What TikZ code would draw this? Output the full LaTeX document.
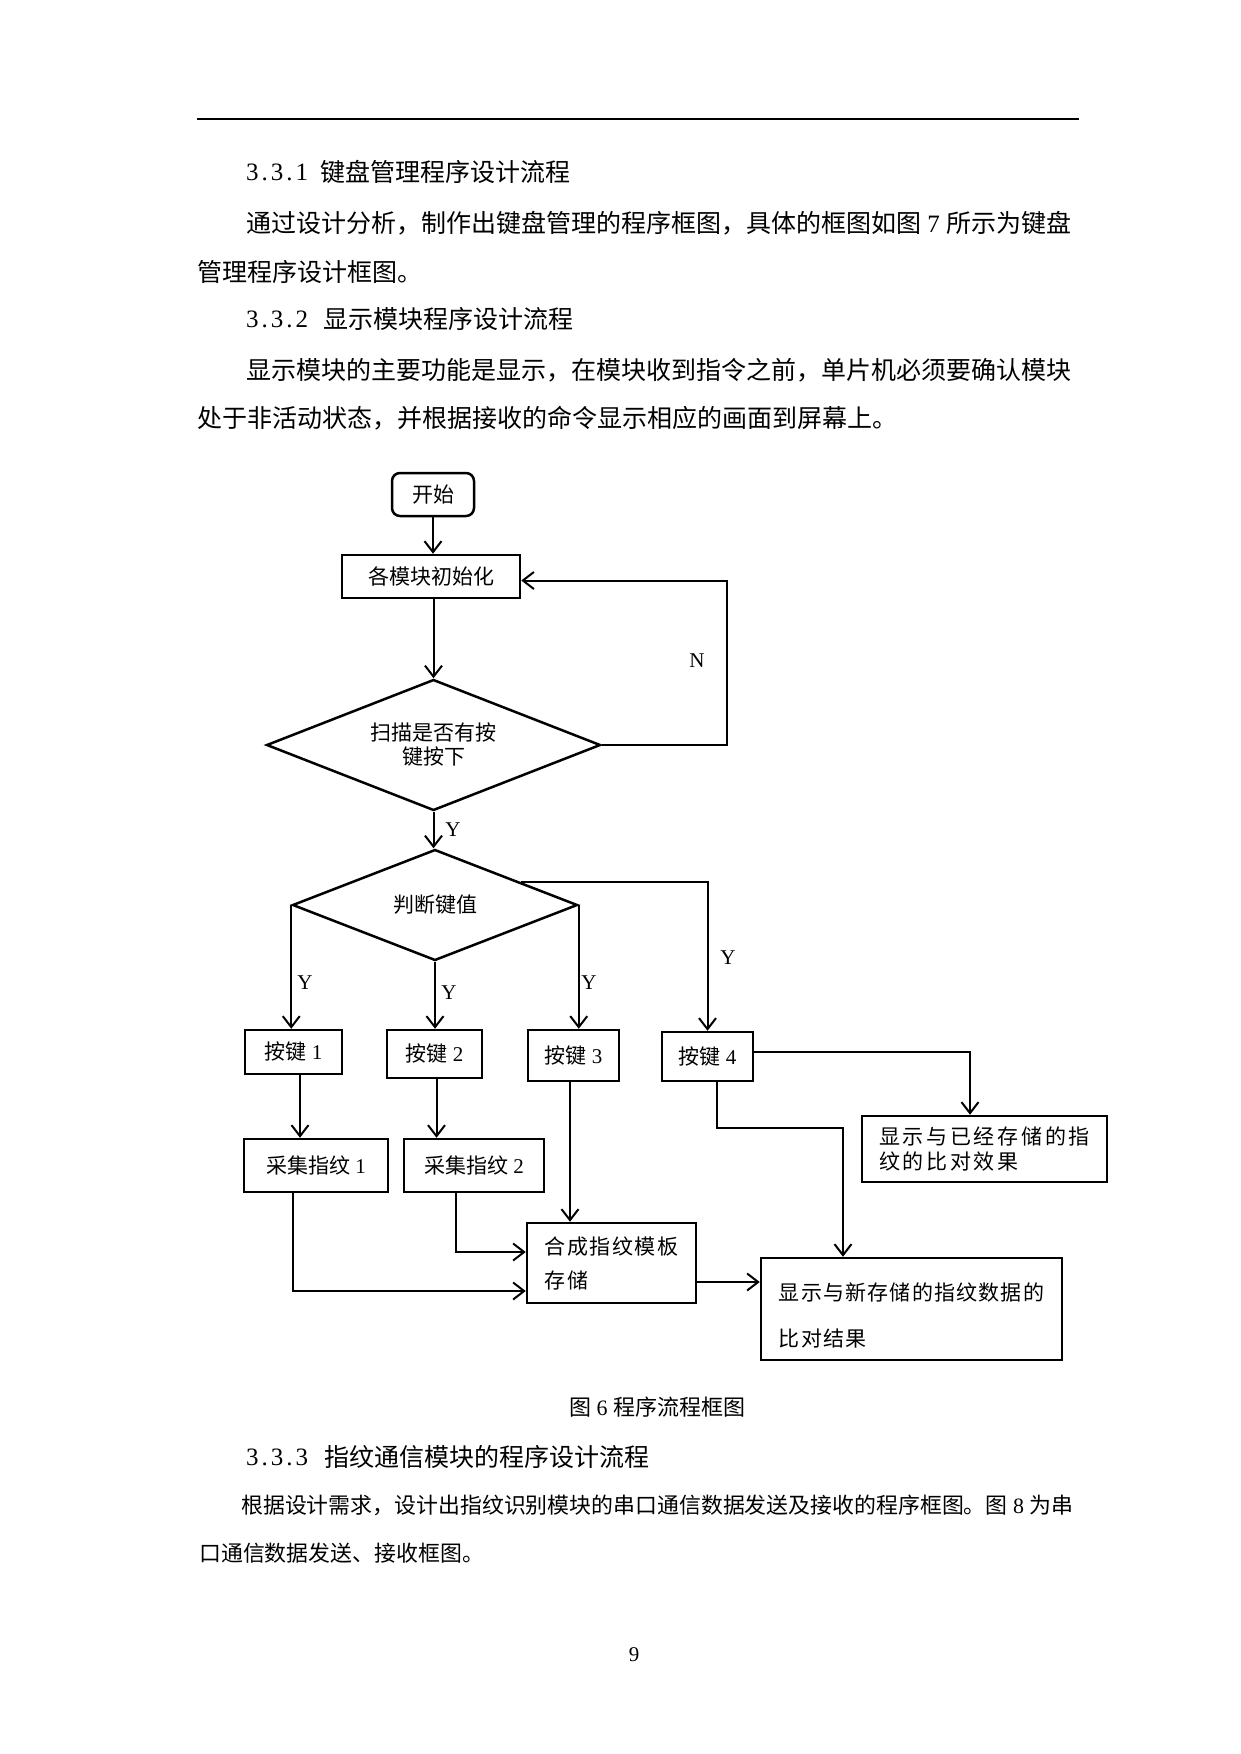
\documentclass[tikz,border=0pt]{standalone}
\usepackage{fontspec}
\setmainfont{Liberation Serif}
\newfontfamily\zh{Noto Sans CJK SC}
\usetikzlibrary{arrows.meta,shapes.geometric,calc}
\newcommand\chartfont{\fontsize{21}{25}\selectfont}
\newcommand\bodyfont{\fontsize{25}{30}\selectfont}
\newcommand\smallbody{\fontsize{21.9}{27}\selectfont}
\begin{document}
\begin{tikzpicture}[x=1pt,y=-1pt,
  arr/.style={draw, line width=2pt, -{Straight Barb[length=11pt,width=17pt]}},
  ln/.style={draw, line width=2pt},
  box/.style={draw, line width=2.5pt, rectangle, inner sep=0pt, font=\chartfont},
  lbl/.style={inner sep=0pt, font=\chartfont},
  body/.style={inner sep=0pt, anchor=west, font=\bodyfont},
  sbody/.style={inner sep=0pt, anchor=west, font=\smallbody},
  num/.style={inner sep=0pt, anchor=west, font=\bodyfont\addfontfeature{LetterSpace=12}},
]
\fill[white] (0,0) rectangle (1240,1754);
\useasboundingbox (0,0) rectangle (1240,1754);

% header rule
\coordinate (ruleL) at (197,119);
\coordinate (ruleR) at (1079,119);
\draw[ln] (ruleL) -- (ruleR);

% body text
\node[num] (h1n) at (246,172) {3.3.1};
\node[body] (h1t) at (320,172) {\zh 键盘管理程序设计流程};
\node[body] (p1a) at (246,223) {{\zh 通过设计分析，制作出键盘管理的程序框图，具体的框图如图} 7 {\zh 所示为键盘}};
\node[body] (p1b) at (197,272) {\zh 管理程序设计框图。};
\node[num] (h2n) at (246,319) {3.3.2};
\node[body] (h2t) at (323,319) {\zh 显示模块程序设计流程};
\node[body] (p2a) at (246,370) {\zh 显示模块的主要功能是显示，在模块收到指令之前，单片机必须要确认模块};
\node[body] (p2b) at (197,418) {\zh 处于非活动状态，并根据接收的命令显示相应的画面到屏幕上。};

% flowchart nodes
\node[box, rounded corners=8pt, minimum width=82pt, minimum height=43pt] (start) at (433,494.5) {\zh 开始};
\node[box, minimum width=178pt, minimum height=43pt] (init) at (431,576.5) {\zh 各模块初始化};
\node[box, diamond, shape aspect=2.55, minimum width=334pt, minimum height=131pt, align=center, font=\fontsize{21}{24}\selectfont\zh] (d1) at (433.5,745) {扫描是否有按\\键按下};
\node[box, diamond, shape aspect=2.57, minimum width=285pt, minimum height=111pt] (d2) at (435,905) {\zh 判断键值};

\node[box, minimum width=97pt, minimum height=44pt] (k1) at (293.5,1052) {{\zh 按键} 1};
\node[box, minimum width=95pt, minimum height=48pt] (k2) at (434.5,1054) {{\zh 按键} 2};
\node[box, minimum width=91pt, minimum height=51pt] (k3) at (573.5,1055.5) {{\zh 按键} 3};
\node[box, minimum width=91pt, minimum height=49pt] (k4) at (707.5,1056.5) {{\zh 按键} 4};

\node[box, minimum width=144pt, minimum height=53pt] (c1) at (316,1165.5) {{\zh 采集指纹} 1};
\node[box, minimum width=140pt, minimum height=53pt] (c2) at (474,1165.5) {{\zh 采集指纹} 2};

\node[box, minimum width=169pt, minimum height=80pt, align=left, font=\fontsize{21}{34}\selectfont\zh\addfontfeature{LetterSpace=6.7}] (syn) at (611.5,1263) {合成指纹模板\\存储};
\node[box, minimum width=245pt, minimum height=66pt, align=left, font=\fontsize{21}{25}\selectfont\zh\addfontfeature{LetterSpace=13}] (disp1) at (984.5,1149) {显示与已经存储的指\\纹的比对效果};
\node[box, minimum width=301pt, minimum height=102pt, align=left, font=\fontsize{21}{46}\selectfont\zh\addfontfeature{LetterSpace=5.7}] (disp2) at (911.5,1309) {\rule{0pt}{30pt}显示与新存储的指纹数据的\\比对结果};

% labels
\node[lbl] (N) at (697,661) {N};
\node[lbl] (Y0) at (453,830) {Y};
\node[lbl] (Y1) at (305,983) {Y};
\node[lbl] (Y2) at (449,993) {Y};
\node[lbl] (Y3) at (589,983) {Y};
\node[lbl] (Y4) at (728,958) {Y};

% helper coordinates
\coordinate (nloop) at (727,745);
\coordinate (d2ne) at ($(d2.north)!0.6!(d2.east)$);
\coordinate (k4turn) at (843,1128);

% connectors
\draw[arr] (start.south) -- (start.south |- init.north);
\draw[arr] (init.south -| d1.north) -- (d1.north);
\draw[arr] (d1.east) -- (nloop) |- ([yshift=-4pt]init.east);
\draw[arr] (d1.south) -- (d1.south |- d2.north);
\draw[arr] (d2.west) -- (d2.west |- k1.north);
\draw[arr] (d2.south) -- (d2.south |- k2.north);
\draw[arr] (d2.east) -- (d2.east |- k3.north);
\draw[arr] (d2ne) -| (k4.north);
\draw[arr] ([xshift=6.5pt]k1.south) -- ([xshift=6.5pt]k1.south |- c1.north);
\draw[arr] ([xshift=2pt]k2.south) -- ([xshift=2pt]k2.south |- c2.north);
\draw[arr] ([xshift=-3.5pt]k3.south) -- ([xshift=-3.5pt]k3.south |- syn.north);
\draw[arr] ([xshift=-18pt]c2.south) |- ([yshift=11pt]syn.west);
\draw[arr] ([xshift=-23pt]c1.south) |- ([yshift=-28pt]syn.west);
\draw[arr] ([yshift=-19pt]syn.east) -- ([yshift=-19pt]syn.east -| disp2.west);
\draw[arr] ([yshift=4.5pt]k4.east) -| ([xshift=-14.5pt]disp1.north);
\draw[arr] ([xshift=9.5pt]k4.south) |- (k4turn) -- (k4turn |- disp2.north);

% caption and following text
\node[inner sep=0pt, font=\fontsize{22}{26}\selectfont] (cap) at (657,1407) {{\zh 图} 6 {\zh 程序流程框图}};
\node[num] (h3n) at (246,1457) {3.3.3};
\node[body] (h3t) at (324,1457) {\zh 指纹通信模块的程序设计流程};
\node[sbody] (p3a) at (241,1505) {{\zh 根据设计需求，设计出指纹识别模块的串口通信数据发送及接收的程序框图。图} 8 {\zh 为串}};
\node[sbody] (p3b) at (199,1553) {\zh 口通信数据发送、接收框图。};
\node[inner sep=0pt, font=\fontsize{21}{25}\selectfont] (pg) at (634,1655) {9};
\end{tikzpicture}
\end{document}
